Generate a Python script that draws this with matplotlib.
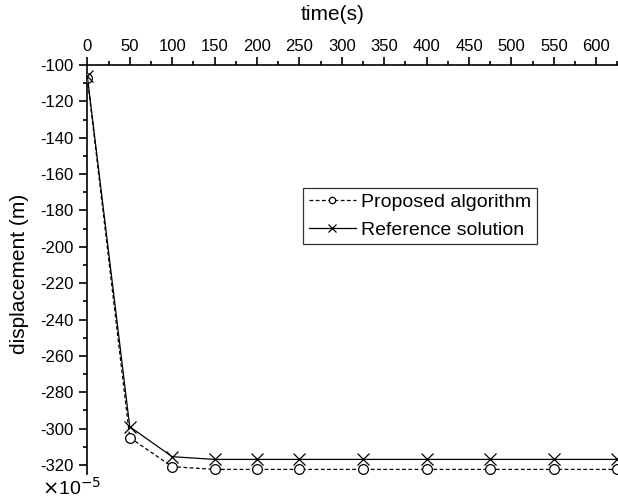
import matplotlib.pyplot as plt
from matplotlib.ticker import MultipleLocator

plt.rcParams['font.family'] = ['Liberation Sans', 'DejaVu Sans']
plt.rcParams['axes.unicode_minus'] = False

time_s = [0, 50, 100, 150, 200, 250, 325, 400, 475, 550, 625]
proposed = [-107, -305, -321, -322.5, -322.5, -322.5, -322.5, -322.5, -322.5, -322.5, -322.5]
reference = [-106, -299, -315.5, -317, -317, -317, -317, -317, -317, -317, -317]

fig = plt.figure(figsize=(6.18, 5.01), dpi=100)
ax = fig.add_axes([0.1413, 0.054, 0.862, 0.816])

ax.plot(time_s, proposed, color='black', linestyle='--', linewidth=0.9,
        dashes=(3, 2), marker='o', markersize=7, markerfacecolor='white',
        markeredgewidth=0.9, label='Proposed algorithm', zorder=3)
ax.plot(time_s, reference, color='black', linestyle='-', linewidth=0.9,
        marker='x', markersize=8, markeredgewidth=0.9,
        label='Reference solution', zorder=3)

ax.set_xlim(0, 628)
ax.set_ylim(-325, -100)

# axis along the top, only left and top spines shown
ax.xaxis.tick_top()
ax.xaxis.set_label_position('top')
ax.spines['bottom'].set_visible(False)
ax.spines['right'].set_visible(False)
for s in ('top', 'left'):
    ax.spines[s].set_linewidth(1.2)

ax.xaxis.set_major_locator(MultipleLocator(50))
ax.xaxis.set_minor_locator(MultipleLocator(25))
ax.yaxis.set_major_locator(MultipleLocator(20))
ax.yaxis.set_minor_locator(MultipleLocator(10))
ax.tick_params(axis='both', which='major', direction='out', length=6,
               width=1.2, labelsize=12, pad=4)
ax.tick_params(axis='both', which='minor', direction='out', length=3,
               width=1.2)
ax.tick_params(axis='x', which='major', pad=2)

ax.set_xlabel('time(s)', fontsize=15)
ax.xaxis.set_label_coords(0.46, 1.11)
ax.set_ylabel('displacement (m)', fontsize=15)
ax.yaxis.set_label_coords(-0.11, 0.49)

fig.text(0.068, 0.027, r'$\times$10$^{-5}$', fontsize=14, ha='left', va='center')

leg = ax.legend(loc='upper left', bbox_to_anchor=(0.405, 0.70), fontsize=14,
                frameon=True, fancybox=False, edgecolor='black',
                handlelength=2.4, handletextpad=0.3, borderpad=0.3,
                labelspacing=0.5, borderaxespad=0, markerscale=0.65)
leg.get_frame().set_linewidth(0.9)

fig.savefig('out.png', dpi=100)
